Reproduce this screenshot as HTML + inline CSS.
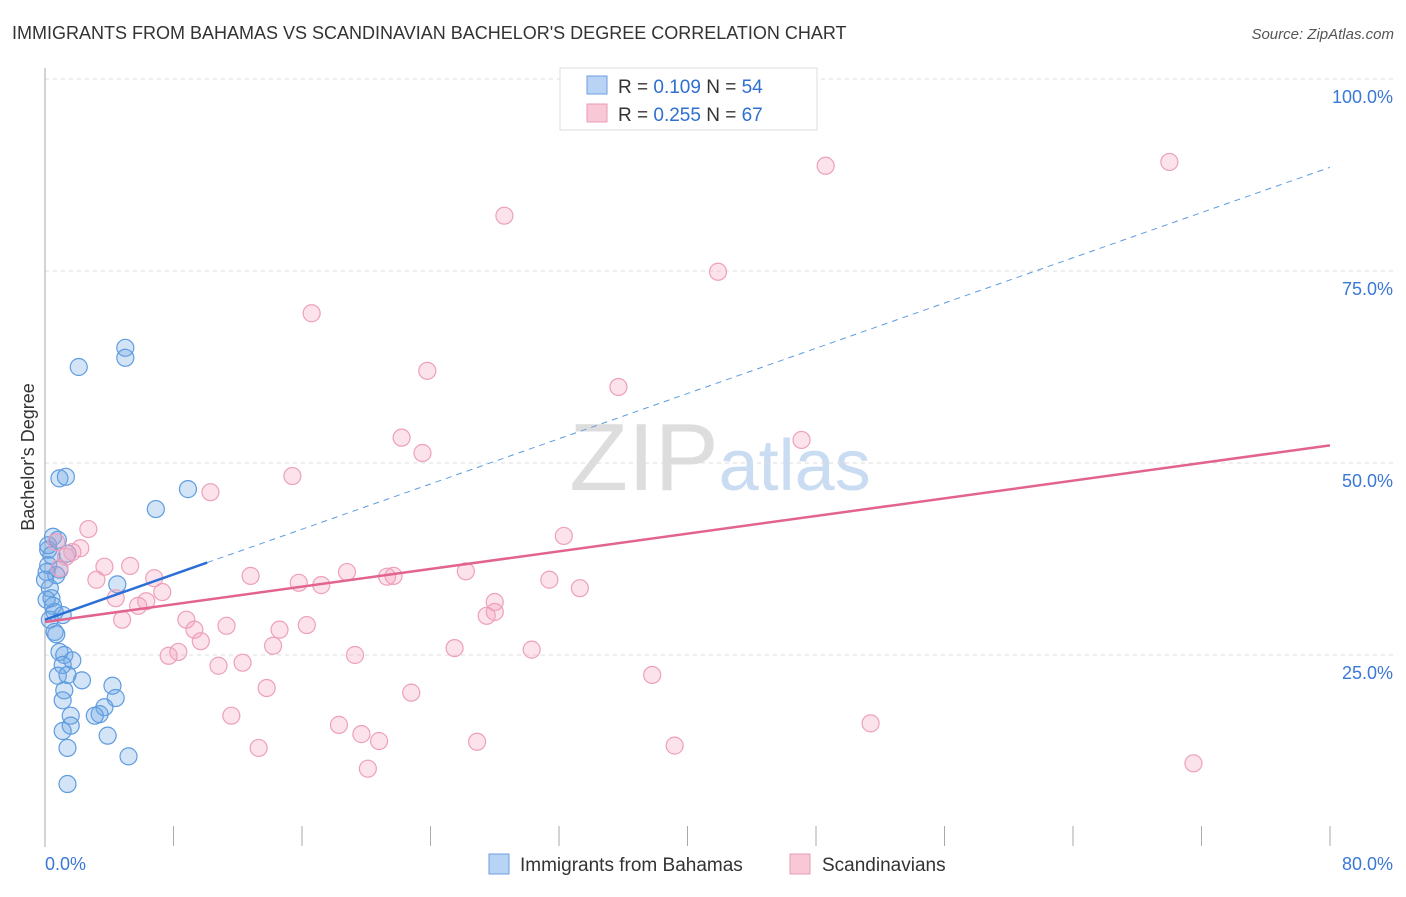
<!DOCTYPE html>
<html><head><meta charset="utf-8"><style>
body{margin:0;background:#fff;font-family:"Liberation Sans",sans-serif;}
svg text{font-family:"Liberation Sans",sans-serif;}
</style></head><body>
<svg id="chart" width="1406" height="892" xmlns="http://www.w3.org/2000/svg">
<text x="12" y="39" font-size="18" fill="#333">IMMIGRANTS FROM BAHAMAS VS SCANDINAVIAN BACHELOR'S DEGREE CORRELATION CHART</text>
<text x="1394" y="39" font-size="15" fill="#555" text-anchor="end" font-style="italic">Source: ZipAtlas.com</text>
<text x="720" y="490" font-size="96" text-anchor="middle" fill="#ddd" font-family="Liberation Serif">ZIP<tspan fill="#c9dcf2" font-family="Liberation Sans" font-size="72">atlas</tspan></text>
<g id="grid"></g>
<g id="axes"></g>
<g id="marks"></g>
<text transform="translate(34,457) rotate(-90)" font-size="18" fill="#333" text-anchor="middle">Bachelor's Degree</text>
<g>
<rect x="560" y="68" width="257" height="62" fill="#fff" stroke="#ddd"/>
<rect x="587" y="76" width="20" height="18" fill="#b9d3f5" stroke="#6a9fe0"/>
<rect x="587" y="104" width="20" height="18" fill="#f9c8d7" stroke="#ec9ab5"/>
<text x="618" y="93" font-size="19" fill="#333">R = <tspan fill="#2f6fd0">0.109</tspan>   N = <tspan fill="#2f6fd0">54</tspan></text>
<text x="618" y="121" font-size="19" fill="#333">R = <tspan fill="#2f6fd0">0.255</tspan>   N = <tspan fill="#2f6fd0">67</tspan></text>
</g>
<g>
<rect x="489" y="854" width="20" height="20" fill="#b9d3f5" stroke="#6a9fe0"/>
<text x="520" y="871" font-size="19" fill="#333">Immigrants from Bahamas</text>
<rect x="790" y="854" width="20" height="20" fill="#f9c8d7" stroke="#ec9ab5"/>
<text x="822" y="871" font-size="19" fill="#333">Scandinavians</text>
</g>
</svg>
<script>
const yTicks=[25,50,75,100];
const yTickLabels=["25.0%","50.0%","75.0%","100.0%"];
const xTickLabels=["0.0%","80.0%"];
const blueX=[5.0,5.0,2.1,0.9,1.3,8.9,6.9,0.5,0.2,0.4,1.4,0.2,0.9,0.7,0.1,4.5,0.3,0.4,0.5,0.6,1.1,0.3,0.6,0.7,0.9,1.2,1.7,1.1,0.8,1.4,2.3,1.2,4.2,4.4,1.1,3.7,3.4,3.1,1.6,1.6,1.1,3.9,1.4,5.2,1.4,0,0.2,0.1,0.8];
const blueY=[65.0,63.7,62.5,48.0,48.2,46.6,44.0,40.4,38.7,38.0,38.2,36.7,36.1,35.4,35.8,34.2,33.7,32.4,31.4,30.6,30.2,29.6,28.0,27.7,25.4,25.0,24.3,23.7,22.3,22.4,21.7,20.4,21.0,19.4,19.1,18.2,17.3,17.1,17.1,15.8,15.1,14.5,12.9,11.8,8.2,34.8,39.3,32.2,40.0];
const pinkX=[48.6,70.0,28.6,41.9,16.6,23.8,35.7,22.2,47.1,23.5,15.4,10.3,32.3,2.7,0.7,2.2,1.7,1.3,5.3,3.7,0.9,18.8,26.2,12.8,6.8,3.2,21.3,21.7,31.4,15.8,17.2,33.3,7.3,4.4,6.3,5.8,28.0,28.0,27.5,4.8,8.8,11.3,16.3,9.3,14.6,9.7,14.2,25.5,30.3,8.3,7.7,19.3,12.3,10.8,37.8,13.8,22.8,11.6,18.3,51.4,19.7,20.8,26.9,39.2,13.3,20.1,71.5];
const pinkY=[88.7,89.2,82.2,74.9,69.5,62.0,59.9,53.3,53.0,51.3,48.3,46.2,40.5,41.4,39.7,38.9,38.4,37.8,36.6,36.5,36.3,35.8,35.9,35.3,35.0,34.8,35.2,35.3,34.8,34.4,34.1,33.7,33.2,32.4,32.0,31.4,31.9,30.6,30.1,29.6,29.6,28.8,28.9,28.3,28.3,26.8,26.2,25.9,25.7,25.4,24.9,25.0,24.0,23.6,22.4,20.7,20.1,17.1,15.9,16.1,14.7,13.8,13.7,13.2,12.9,10.2,10.9];
const blueTrend=[29.6,88.5]; // y at x=0 and x=80
const blueSolidEnd=10.1;
const pinkTrend=[29.3,52.3];
const NS="http://www.w3.org/2000/svg";
const xs=v=>45+v/80*1285, ys=v=>847-v/100*768;
function mk(tag,attrs,parent){const e=document.createElementNS(NS,tag);for(const k in attrs)e.setAttribute(k,attrs[k]);parent.appendChild(e);return e;}
const grid=document.getElementById('grid'),axes=document.getElementById('axes'),marks=document.getElementById('marks');
yTicks.forEach((t,i)=>{
 const l=mk('line',{x1:45,x2:1394,y1:ys(t),y2:ys(t),stroke:'#ddd','stroke-dasharray':'4,4'},grid);
 
 
 const tx=mk('text',{x:1393,y:ys(t)+24,'font-size':18,fill:'#3a78d6','text-anchor':'end'},axes);
 tx.textContent=yTickLabels[i];
 
 
});
const ya=mk('line',{x1:45,x2:45,y1:68,y2:847,stroke:'#aaa'},axes);


for(let i=0;i<=10;i++){const t=mk('line',{x1:xs(i*8),x2:xs(i*8),y1:826,y2:846,stroke:'#aaa'},axes);
 
 }
const xl0=mk('text',{x:45,y:870,'font-size':18,fill:'#3a78d6'},axes);xl0.textContent=xTickLabels[0];


const xl1=mk('text',{x:1393,y:870,'font-size':18,fill:'#3a78d6','text-anchor':'end'},axes);xl1.textContent=xTickLabels[1];


blueX.forEach((x,i)=>{const c=mk('circle',{cx:xs(x),cy:ys(blueY[i]),r:8.5,fill:'rgba(110,165,230,0.3)',stroke:'#5e9ce0','stroke-width':1.2},marks);
 
 });
pinkX.forEach((x,i)=>{const c=mk('circle',{cx:xs(x),cy:ys(pinkY[i]),r:8.5,fill:'rgba(244,160,190,0.3)',stroke:'#eda0ba','stroke-width':1.2},marks);
 
 });
const by=x=>blueTrend[0]+(blueTrend[1]-blueTrend[0])*x/80;
const bd=mk('line',{x1:xs(blueSolidEnd),y1:ys(by(blueSolidEnd)),x2:xs(80),y2:ys(by(80)),stroke:'#5e9ce0','stroke-dasharray':'6,5','stroke-width':1},marks);


const bs=mk('line',{x1:xs(0),y1:ys(by(0)),x2:xs(blueSolidEnd),y2:ys(by(blueSolidEnd)),stroke:'#2a6fd6','stroke-width':2.5},marks);


const ps=mk('line',{x1:xs(0),y1:ys(pinkTrend[0]),x2:xs(80),y2:ys(pinkTrend[1]),stroke:'#e2648e','stroke-width':2.5},marks);


</script>
</body></html>
